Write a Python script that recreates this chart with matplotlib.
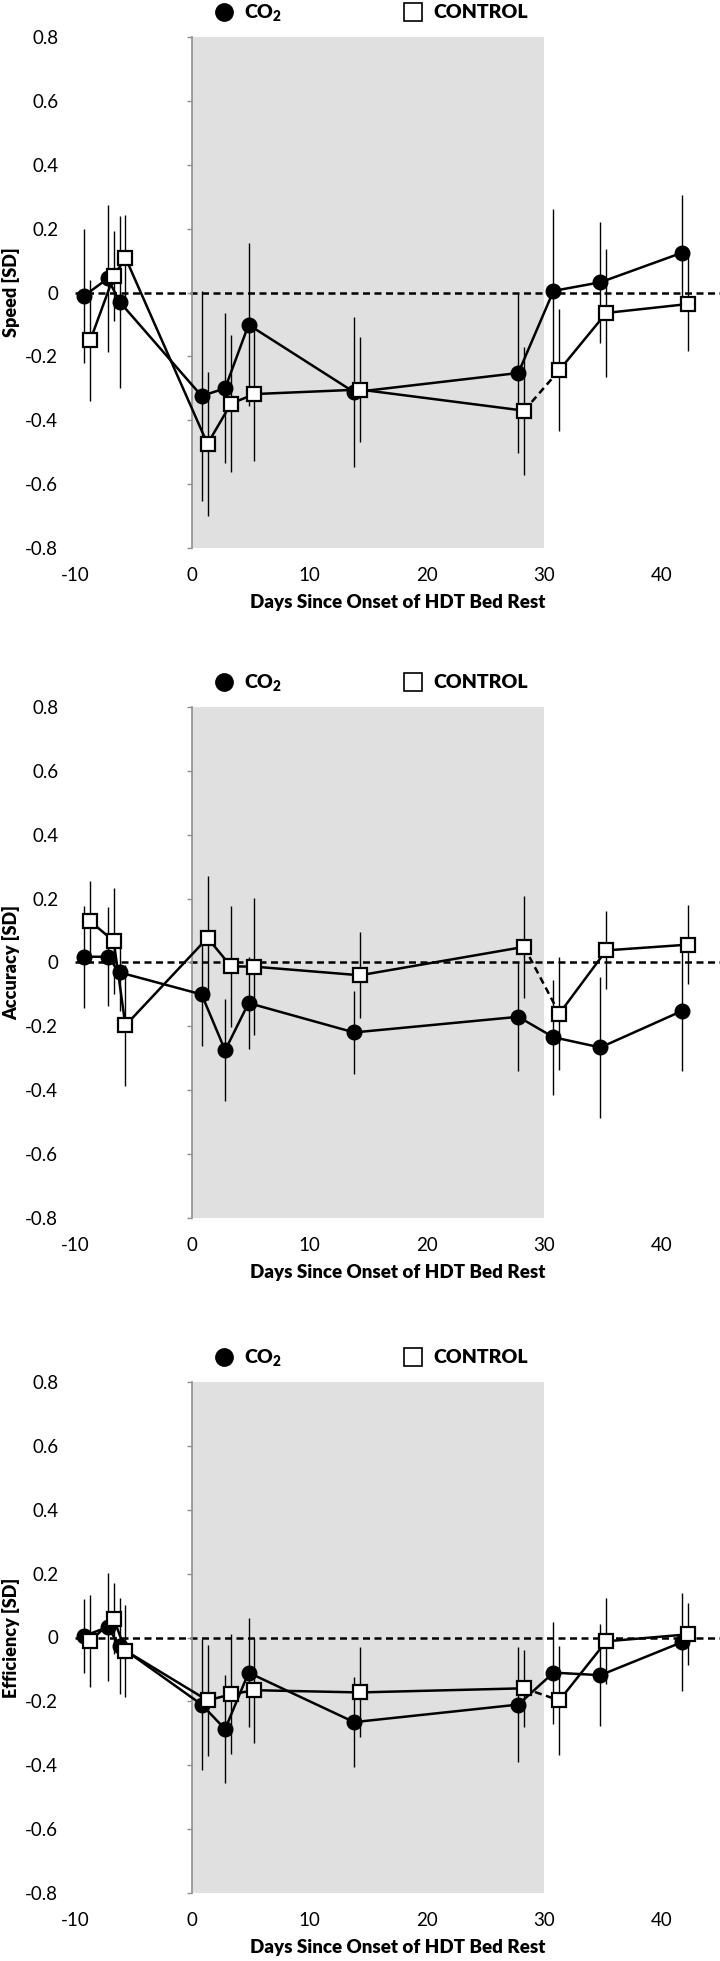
import matplotlib
matplotlib.use('Agg')
import matplotlib.pyplot as plt
from matplotlib.lines import Line2D

plt.rcParams['font.family'] = ['Lato', 'DejaVu Sans']
plt.rcParams['axes.unicode_minus'] = False
plt.rcParams['mathtext.default'] = 'regular'

# days of each session (the two groups are offset a little on the x axis)
days_co2 = [-9.2, -7.2, -6.2, 0.8, 2.8, 4.8, 13.8, 27.8, 30.8, 34.8, 41.8]
days_ctrl = [-8.7, -6.7, -5.7, 1.3, 3.3, 5.3, 14.3, 28.3, 31.3, 35.3, 42.3]

# Speed
speed_co2 = [-0.01, 0.044, -0.029, -0.324, -0.30, -0.101, -0.312, -0.252, 0.005, 0.032, 0.125]
speed_co2_err = [0.21, 0.23, 0.27, 0.33, 0.235, 0.255, 0.235, 0.25, 0.255, 0.19, 0.18]
speed_ctrl = [-0.15, 0.051, 0.109, -0.474, -0.348, -0.318, -0.304, -0.37, -0.243, -0.064, -0.036]
speed_ctrl_err = [0.19, 0.14, 0.134, 0.225, 0.215, 0.21, 0.165, 0.2, 0.19, 0.2, 0.147]

# Accuracy
acc_co2 = [0.018, 0.018, -0.031, -0.10, -0.275, -0.127, -0.219, -0.17, -0.234, -0.266, -0.151]
acc_co2_err = [0.16, 0.155, 0.12, 0.16, 0.16, 0.145, 0.13, 0.17, 0.18, 0.22, 0.19]
acc_ctrl = [0.129, 0.067, -0.197, 0.077, -0.012, -0.013, -0.04, 0.049, -0.16, 0.038, 0.056]
acc_ctrl_err = [0.125, 0.165, 0.19, 0.195, 0.19, 0.215, 0.135, 0.16, 0.177, 0.122, 0.124]

# Efficiency
eff_co2 = [0.005, 0.033, -0.027, -0.21, -0.287, -0.11, -0.265, -0.21, -0.11, -0.118, -0.014]
eff_co2_err = [0.117, 0.17, 0.15, 0.205, 0.17, 0.17, 0.14, 0.18, 0.16, 0.16, 0.153]
eff_ctrl = [-0.012, 0.059, -0.041, -0.197, -0.178, -0.165, -0.172, -0.159, -0.197, -0.012, 0.01]
eff_ctrl_err = [0.144, 0.112, 0.144, 0.175, 0.188, 0.164, 0.141, 0.12, 0.17, 0.135, 0.097]

panels = [
    ('Speed [SD]', speed_co2, speed_co2_err, speed_ctrl, speed_ctrl_err),
    ('Accuracy [SD]', acc_co2, acc_co2_err, acc_ctrl, acc_ctrl_err),
    ('Efficiency [SD]', eff_co2, eff_co2_err, eff_ctrl, eff_ctrl_err),
]

yticks = [-0.8, -0.6, -0.4, -0.2, 0, 0.2, 0.4, 0.6, 0.8]
ytick_labels = ['-0.8', '-0.6', '-0.4', '-0.2', '0', '0.2', '0.4', '0.6', '0.8']
xticks = [-10, 0, 10, 20, 30, 40]
xtick_labels = ['-10', '0', '10', '20', '30', '40']

W, H = 720, 1961
fig = plt.figure(figsize=(W / 100, H / 100), dpi=100)

tops = [37, 707, 1382]
ax_h = 511
left, right = 75, 720

for (ylabel, co2, co2_err, ctrl, ctrl_err), top in zip(panels, tops):
    ax = fig.add_axes([left / W, 1 - (top + ax_h) / H, (right - left) / W, ax_h / H])
    ax.set_xlim(-10, 45)
    ax.set_ylim(-0.8, 0.8)

    # bed rest period
    ax.axvspan(0, 30, color='#e0e0e0', zorder=0, lw=0)
    ax.axhline(0, color='black', ls=(0, (2.8, 1.8)), lw=1.8, zorder=1)

    # error bars
    ax.errorbar(days_co2, co2, yerr=co2_err, fmt='none', ecolor='black', elinewidth=1.0, zorder=2)
    ax.errorbar(days_ctrl, ctrl, yerr=ctrl_err, fmt='none', ecolor='black', elinewidth=1.0, zorder=2)

    # CO2 group
    ax.plot(days_co2, co2, color='black', lw=1.8, marker='o', ms=10.5,
            mfc='black', mec='black', zorder=3)

    # control group, dashed across the end of bed rest
    ax.plot(days_ctrl[:8], ctrl[:8], color='black', lw=1.8, zorder=4)
    ax.plot(days_ctrl[7:9], ctrl[7:9], color='black', lw=1.8, ls=(0, (2.8, 1.8)), zorder=4)
    ax.plot(days_ctrl[8:], ctrl[8:], color='black', lw=1.8, zorder=4)
    ax.plot(days_ctrl, ctrl, ls='none', marker='s', ms=10.5, mfc='white',
            mec='black', mew=1.6, zorder=5)

    for s in ['top', 'right', 'bottom']:
        ax.spines[s].set_visible(False)
    ax.spines['left'].set_position(('data', 0))
    ax.spines['left'].set_color('#909090')
    ax.spines['left'].set_linewidth(1.2)
    ax.spines['left'].set_zorder(1)

    ax.set_yticks(yticks)
    ax.set_yticklabels(ytick_labels)
    ax.tick_params(axis='y', direction='out', length=3.5, width=1, color='#909090',
                   labelsize=13.5, pad=93)
    ax.set_xticks(xticks)
    ax.set_xticklabels(xtick_labels)
    ax.tick_params(axis='x', length=0, labelsize=13.5, pad=14)

    ax.set_ylabel(ylabel, fontsize=13, fontweight='heavy')
    ax.yaxis.set_label_coords(-0.085, 0.5)
    ax.set_xlabel('Days Since Onset of HDT Bed Rest', fontsize=13.5, fontweight='heavy', labelpad=7)

    handles = [
        Line2D([], [], ls='none', marker='o', ms=12.5, mfc='black', mec='black'),
        Line2D([], [], ls='none', marker='s', ms=12.5, mfc='white', mec='black', mew=1.2),
    ]
    ax.legend(handles, ['CO$_2$', 'CONTROL'], loc='center', bbox_to_anchor=(0.459, 1.047),
              ncol=2, frameon=False, prop={'size': 14, 'weight': 'heavy'},
              handlelength=1.0, handletextpad=0.55, columnspacing=6.2, borderpad=0)

fig.savefig('out.png', dpi=100)
